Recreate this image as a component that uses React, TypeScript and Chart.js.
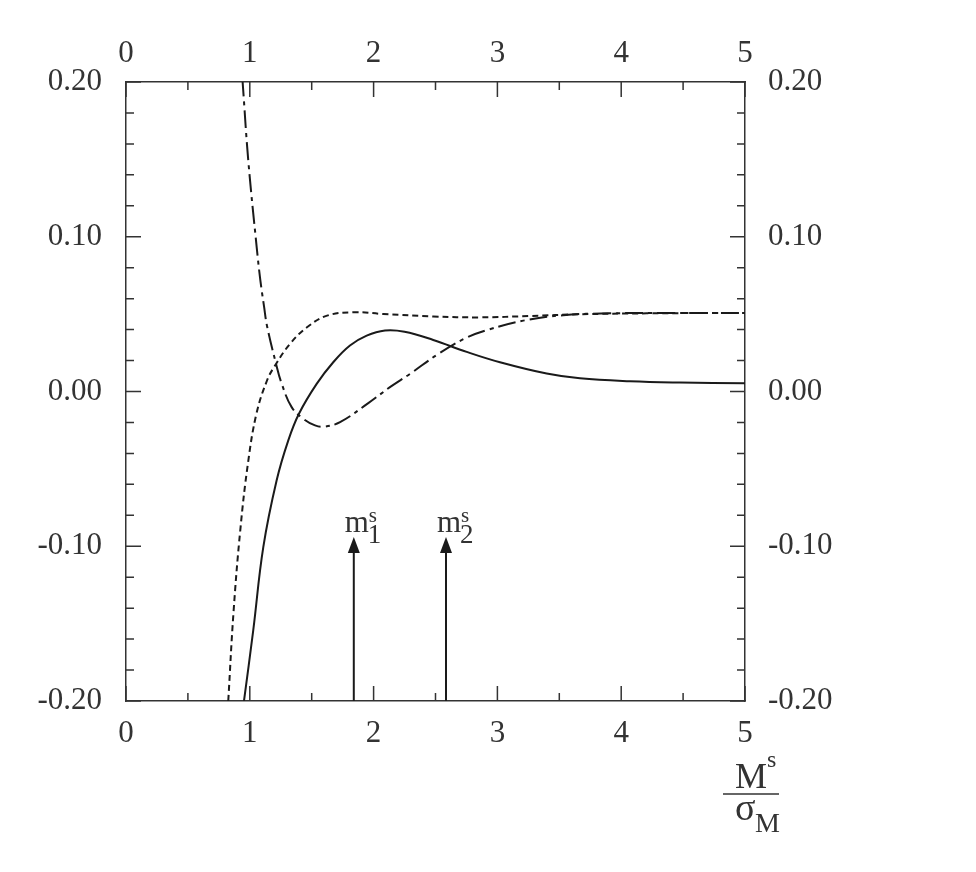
import React, { useEffect, useRef } from 'react';
import { Chart, registerables } from 'chart.js';

Chart.register(...registerables);

// ---- data ----
const xTicks = [0, 1, 2, 3, 4, 5];
const xMinorTicks = [0.5, 1.5, 2.5, 3.5, 4.5];
const yTicks = [-0.2, -0.1, 0, 0.1, 0.2];
const yMinorTicks = [-0.18, -0.16, -0.14, -0.12, -0.08, -0.06, -0.04, -0.02, 0.02, 0.04, 0.06, 0.08, 0.12, 0.14, 0.16, 0.18];

const solidX = [0.953, 1.028, 1.109, 1.217, 1.311, 1.397, 1.54, 1.674, 1.809, 1.944, 2.092, 2.25, 2.482, 2.752, 3.021, 3.398, 3.667, 4.071, 4.475, 5.0];
const solidY = [-0.2, -0.1542, -0.1006, -0.0574, -0.0316, -0.0144, 0.0049, 0.0189, 0.0297, 0.0361, 0.0394, 0.0386, 0.0333, 0.0256, 0.0189, 0.0116, 0.0085, 0.0066, 0.0058, 0.0054];

const dottedX = [0.826, 0.868, 0.923, 0.985, 1.054, 1.139, 1.204, 1.325, 1.462, 1.624, 1.836, 2.079, 2.482, 2.86, 3.263, 3.667, 4.206, 5.0];
const dottedY = [-0.2, -0.1432, -0.0897, -0.0465, -0.0142, 0.0071, 0.0168, 0.0308, 0.0415, 0.049, 0.0512, 0.0501, 0.0485, 0.0479, 0.0488, 0.0499, 0.0505, 0.0508];

const dashDotX = [0.92, 0.942, 0.988, 1.056, 1.085, 1.115, 1.14, 1.212, 1.258, 1.338, 1.432, 1.527, 1.6, 1.729, 1.957, 2.132, 2.294, 2.523, 2.738, 2.93, 3.209, 3.532, 3.9, 4.4, 5.0];
const dashDotY = [0.223, 0.2, 0.149, 0.093, 0.072, 0.055, 0.042, 0.0179, 0.005, -0.0101, -0.0176, -0.0219, -0.0227, -0.0198, -0.0075, 0.0028, 0.0114, 0.0243, 0.0343, 0.04, 0.0458, 0.0493, 0.0505, 0.0507, 0.0508];

const arrowX = [1.84, 2.585];
const arrowTipY = -0.094;
const arrowSubs = ['1', '2'];

const FONT = "'Liberation Serif', 'Times New Roman', serif";
const TEXT = '#333';
const LINE = '#1a1a1a';

const pts = (xs: number[], ys: number[]) => xs.map((x, i) => ({ x, y: ys[i] }));

const overlay = {
  id: 'overlay',
  afterDraw(chart: any) {
    const ctx = chart.ctx as CanvasRenderingContext2D;
    const { left, right, top, bottom } = chart.chartArea;
    const xs = chart.scales.x;
    const ys = chart.scales.y;
    ctx.save();
    // inward ticks
    ctx.strokeStyle = '#333';
    ctx.lineWidth = 1.5;
    const tickX = (vals: number[], len: number) => {
      vals.forEach((v) => {
        const px = xs.getPixelForValue(v);
        ctx.beginPath();
        ctx.moveTo(px, top); ctx.lineTo(px, top + len);
        ctx.moveTo(px, bottom); ctx.lineTo(px, bottom - len);
        ctx.stroke();
      });
    };
    const tickY = (vals: number[], len: number) => {
      vals.forEach((v) => {
        const py = ys.getPixelForValue(v);
        ctx.beginPath();
        ctx.moveTo(left, py); ctx.lineTo(left + len, py);
        ctx.moveTo(right, py); ctx.lineTo(right - len, py);
        ctx.stroke();
      });
    };
    tickX(xTicks, 15);
    tickX(xMinorTicks, 8);
    tickY(yTicks, 15);
    tickY(yMinorTicks, 8);

    // arrows
    ctx.fillStyle = LINE;
    ctx.strokeStyle = LINE;
    arrowX.forEach((v, i) => {
      const px = xs.getPixelForValue(v);
      const tip = ys.getPixelForValue(arrowTipY);
      ctx.lineWidth = 2;
      ctx.beginPath();
      ctx.moveTo(px, bottom);
      ctx.lineTo(px, tip + 12);
      ctx.stroke();
      ctx.beginPath();
      ctx.moveTo(px, tip);
      ctx.lineTo(px - 6, tip + 16);
      ctx.lineTo(px + 6, tip + 16);
      ctx.closePath();
      ctx.fill();
      // label m^s_i
      ctx.fillStyle = TEXT;
      ctx.textBaseline = 'alphabetic';
      ctx.textAlign = 'left';
      ctx.font = `31px ${FONT}`;
      ctx.fillText('m', px - 9, tip - 5);
      ctx.font = `21px ${FONT}`;
      ctx.fillText('s', px + 15, tip - 15);
      ctx.font = `27px ${FONT}`;
      ctx.fillText(arrowSubs[i], px + 14, tip + 6);
      ctx.fillStyle = LINE;
    });

    // axis title M^s / sigma_M
    ctx.fillStyle = TEXT;
    ctx.textAlign = 'left';
    ctx.textBaseline = 'alphabetic';
    ctx.font = `36px ${FONT}`;
    ctx.fillText('M', right - 10, bottom + 87);
    ctx.font = `24px ${FONT}`;
    ctx.fillText('s', right + 22, bottom + 66);
    ctx.strokeStyle = TEXT;
    ctx.lineWidth = 1.5;
    ctx.beginPath();
    ctx.moveTo(right - 22, bottom + 93);
    ctx.lineTo(right + 34, bottom + 93);
    ctx.stroke();
    ctx.font = `38px ${FONT}`;
    ctx.fillText('σ', right - 10, bottom + 119);
    ctx.font = `28px ${FONT}`;
    ctx.fillText('M', right + 10, bottom + 131);
    ctx.restore();
  },
};

export default function App() {
  const ref = useRef<HTMLCanvasElement | null>(null);
  useEffect(() => {
    if (!ref.current) return;
    const tickFont = { family: FONT, size: 31 };
    const fmtY = (v: any) => Number(v).toFixed(2);
    const fmtX = (v: any) => String(Math.round(Number(v)));
    const setX = (s: any) => { s.ticks = xTicks.map((v) => ({ value: v })); };
    const setY = (s: any) => { s.ticks = yTicks.map((v) => ({ value: v })); };
    const border = { display: true, color: '#333', width: 1.5 };
    const grid = { display: false, drawTicks: false, tickLength: 0 };
    const lineBase = {
      borderColor: LINE,
      borderWidth: 2,
      pointRadius: 0,
      fill: false,
      tension: 0.4,
      clip: 0,
    };
    const chart = new Chart(ref.current, {
      type: 'line',
      data: {
        datasets: [
          { ...lineBase, label: 'solid', data: pts(solidX, solidY) },
          { ...lineBase, label: 'dotted', data: pts(dottedX, dottedY), borderDash: [6, 4] },
          { ...lineBase, label: 'dashdot', data: pts(dashDotX, dashDotY), borderDash: [18, 5, 4, 5] },
        ],
      },
      options: {
        animation: false,
        responsive: false,
        events: [],
        layout: { padding: 0 },
        plugins: { legend: { display: false }, tooltip: { enabled: false } },
        scales: {
          x: {
            type: 'linear', position: 'bottom', min: 0, max: 5,
            grid, border,
            afterBuildTicks: setX,
            afterFit: (s: any) => { s.height = 171; },
            ticks: { font: tickFont, color: TEXT, padding: 14, callback: fmtX, maxRotation: 0 },
          },
          x2: {
            type: 'linear', position: 'top', min: 0, max: 5,
            grid, border,
            afterBuildTicks: setX,
            afterFit: (s: any) => { s.height = 82; },
            ticks: { font: tickFont, color: TEXT, padding: 10, callback: fmtX, maxRotation: 0 },
          },
          y: {
            type: 'linear', position: 'left', min: -0.2, max: 0.2,
            grid, border,
            afterBuildTicks: setY,
            afterFit: (s: any) => { s.width = 126; },
            ticks: { font: tickFont, color: TEXT, padding: 24, callback: fmtY },
          },
          y2: {
            type: 'linear', position: 'right', min: -0.2, max: 0.2,
            grid, border,
            afterBuildTicks: setY,
            afterFit: (s: any) => { s.width = 231; },
            ticks: { font: tickFont, color: TEXT, padding: 23, callback: fmtY },
          },
        },
      } as any,
      plugins: [overlay],
    });
    return () => chart.destroy();
  }, []);
  return (
    <div style={{ position: 'absolute', left: 0, top: 0, width: 976, height: 872, background: '#fff' }}>
      <canvas ref={ref} width={976} height={872} style={{ display: 'block' }} />
    </div>
  );
}
